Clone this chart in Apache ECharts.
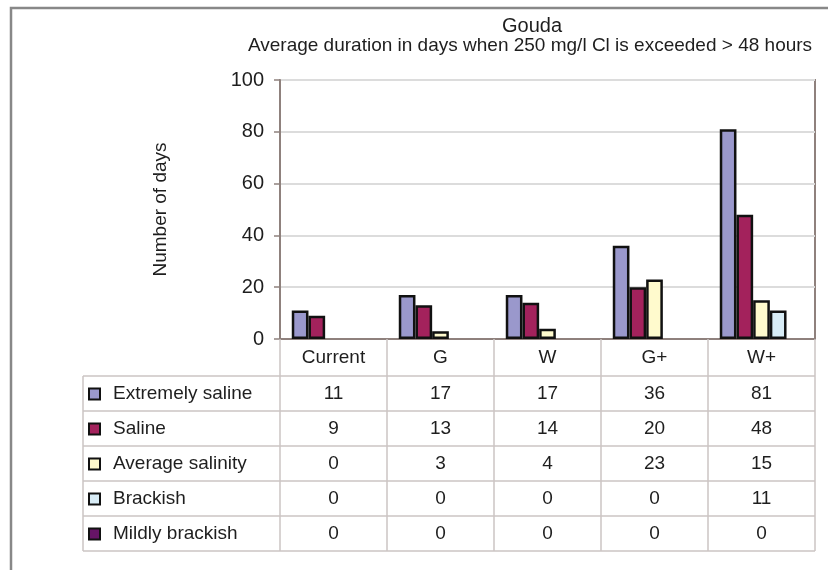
<!DOCTYPE html>
<html>
<head>
<meta charset="utf-8">
<script src="https://cdn.jsdelivr.net/npm/echarts@6/dist/echarts.min.js"></script>
<style>
html, body { margin: 0; padding: 0; background: #fff; }
#main { width: 828px; height: 570px; }
</style>
</head>
<body>
<div id="main"></div>
<script>
// data
var categories = ['Current', 'G', 'W', 'G+', 'W+'];
var extremelySaline = [11, 17, 17, 36, 81];
var saline = [9, 13, 14, 20, 48];
var averageSalinity = [0, 3, 4, 23, 15];
var brackish = [0, 0, 0, 0, 11];
var mildlyBrackish = [0, 0, 0, 0, 0];
var yTicks = [0, 20, 40, 60, 80, 100];

var seriesNames = ['Extremely saline', 'Saline', 'Average salinity', 'Brackish', 'Mildly brackish'];
var seriesValues = [extremelySaline, saline, averageSalinity, brackish, mildlyBrackish];
var seriesColors = ['#9a98cc', '#a3225c', '#fffacd', '#d8ecf6', '#661466'];

var FONT = '"Liberation Sans", Arial, sans-serif';
var TEXT = '#1e1e1e';
var AXIS = '#8f817d';
var TABLE_LINE = '#cbc5c3';

// table layout (pixels)
var tableLeft = 83;
var gridLeft = 280;
var gridRight = 13;
var gridTop = 80;
var gridBottom = 231;
var headerBottom = 376;
var rowH = 35;

var myChart = echarts.init(document.getElementById('main'));

var series = seriesNames.map(function (name, i) {
  return {
    name: name,
    type: 'bar',
    barGap: '0%',
    barCategoryGap: '22%',
    itemStyle: { color: seriesColors[i], borderColor: '#111', borderWidth: 2.5 },
    // zero-height bars are not drawn in the picture
    data: seriesValues[i].map(function (v) { return v === 0 ? '-' : v; })
  };
});

myChart.setOption({
  animation: false,
  textStyle: { fontFamily: FONT },
  title: [
    { text: 'Gouda', left: 527, top: 11, textAlign: 'center',
      textStyle: { fontSize: 20, fontWeight: 'normal', color: TEXT, fontFamily: FONT } },
    { text: 'Average duration in days when 250 mg/l Cl is exceeded > 48 hours', left: 525, top: 31, textAlign: 'center',
      textStyle: { fontSize: 19, fontWeight: 'normal', color: TEXT, fontFamily: FONT } }
  ],
  legend: {
    orient: 'vertical',
    left: 88,
    top: 384,
    padding: 0,
    icon: 'rect',
    itemWidth: 11,
    itemHeight: 11,
    itemGap: 15,
    selectedMode: false,
    textStyle: { fontSize: 19, lineHeight: 20, color: TEXT, fontFamily: FONT, padding: [0, 0, 0, 8] },
    data: seriesNames
  },
  grid: {
    left: gridLeft, right: gridRight, top: gridTop, bottom: gridBottom,
    show: true, borderColor: AXIS, borderWidth: 2, containLabel: false
  },
  xAxis: {
    type: 'category',
    data: categories,
    axisLine: { lineStyle: { color: AXIS, width: 2 } },
    axisTick: { show: true, length: headerBottom + rowH * 5 - (570 - gridBottom), lineStyle: { color: TABLE_LINE, width: 1.5 } },
    axisLabel: { fontSize: 19, color: TEXT, margin: 9, fontFamily: FONT }
  },
  yAxis: {
    type: 'value',
    min: yTicks[0],
    max: yTicks[yTicks.length - 1],
    interval: yTicks[1] - yTicks[0],
    name: 'Number of days',
    nameLocation: 'middle',
    nameGap: 110,
    nameTextStyle: { fontSize: 19, color: TEXT, fontFamily: FONT },
    axisLine: { show: true, lineStyle: { color: AXIS, width: 2 } },
    axisTick: { show: true, length: 6, lineStyle: { color: AXIS, width: 1.5 } },
    axisLabel: { fontSize: 20, color: TEXT, margin: 16, fontFamily: FONT },
    splitLine: { lineStyle: { color: '#dcdcdc', width: 2 } }
  },
  series: series
});

// data table under the plot, aligned on the category axis
var rightX = 828 - gridRight;
var graphics = [];
graphics.push({
  type: 'polyline', silent: true,
  shape: { points: [[11, 570], [11, 8], [828, 8]] },
  style: { stroke: '#888', lineWidth: 2.5, fill: null }
});
for (var r = 0; r <= seriesNames.length; r++) {
  var y = headerBottom + r * rowH;
  graphics.push({
    type: 'line', silent: true,
    shape: { x1: tableLeft, y1: y, x2: rightX, y2: y },
    style: { stroke: TABLE_LINE, lineWidth: 1.5 }
  });
}
graphics.push({
  type: 'line', silent: true,
  shape: { x1: tableLeft, y1: headerBottom, x2: tableLeft, y2: headerBottom + rowH * seriesNames.length },
  style: { stroke: TABLE_LINE, lineWidth: 1.5 }
});
seriesValues.forEach(function (vals, i) {
  vals.forEach(function (v, j) {
    var x = myChart.convertToPixel({ xAxisIndex: 0 }, j);
    graphics.push({
      type: 'text', silent: true,
      x: x, y: headerBottom + i * rowH + rowH / 2,
      style: { text: String(v), fill: TEXT, fontSize: 19, fontFamily: FONT, align: 'center', verticalAlign: 'middle' }
    });
  });
});
myChart.setOption({ graphic: graphics });
</script>
</body>
</html>
